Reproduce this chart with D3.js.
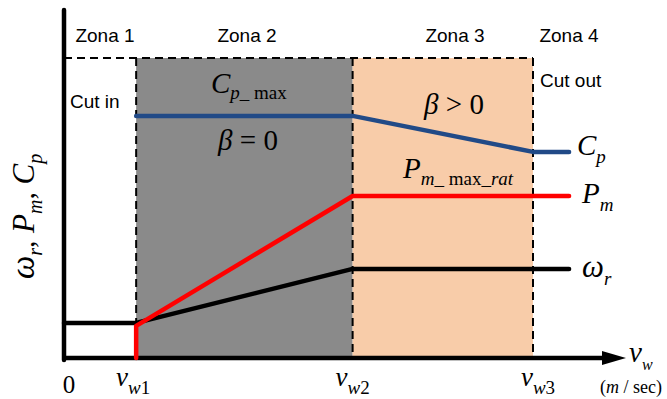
<!DOCTYPE html>
<html><head><meta charset="utf-8">
<script src="https://cdn.jsdelivr.net/npm/d3@7"></script>
<style>body{margin:0;background:#fff}svg{display:block}</style>
</head><body>
<svg id="c" width="667" height="399"></svg>
<script>
// ---- data ----
const zoneNames = ["Zona 1", "Zona 2", "Zona 3", "Zona 4"];
const windBreaks = [0, 1, 4, 6.5];           // 0, vw1, vw2, vw3
const windTickNames = ["0", "w1", "w2", "w3"];
const lineEnd = 7.0;
const omegaV = [0, 1, 4, lineEnd];
const omegaY = [0.117, 0.117, 0.297, 0.297];
const pmV = [1, 1, 4, lineEnd];
const pmY = [0, 0.107, 0.54, 0.54];
const cpV = [1, 4, 6.5, lineEnd];
const cpY = [0.807, 0.807, 0.687, 0.687];

const svg = d3.select("#c");
const x = d3.scaleLinear().domain([0, 6.5]).range([64, 533]);
const y = d3.scaleLinear().domain([0, 1]).range([358, 58]);

const serif = "'Liberation Serif','Times New Roman',serif";
const sans = "'Liberation Sans',Arial,sans-serif";

// zone rectangles
svg.append("rect").attr("x", x(windBreaks[1])).attr("y", y(1))
  .attr("width", x(windBreaks[2]) - x(windBreaks[1])).attr("height", y(0) - y(1))
  .attr("fill", "#8a8a8a");
svg.append("rect").attr("x", x(windBreaks[2])).attr("y", y(1))
  .attr("width", x(windBreaks[3]) - x(windBreaks[2])).attr("height", y(0) - y(1))
  .attr("fill", "#f8cca9");

// dashed borders
const dash = "8,5";
const dl = (x1, y1, x2, y2) => svg.append("line").attr("x1", x1).attr("y1", y1).attr("x2", x2).attr("y2", y2)
  .attr("stroke", "#000").attr("stroke-width", 2).attr("stroke-dasharray", dash);
dl(x(0), y(1), x(windBreaks[3]), y(1));
[1, 2, 3].forEach(i => dl(x(windBreaks[i]), y(1), x(windBreaks[i]), y(0)));
dl(x(windBreaks[1]), y(0) - 1, x(windBreaks[3]), y(0) - 1);

// curves
const line = d3.line().x(d => x(d[0])).y(d => y(d[1]));
function curve(vs, ys, color, w) {
  svg.append("path").datum(vs.map((v, i) => [v, ys[i]])).attr("d", line)
    .attr("fill", "none").attr("stroke", color).attr("stroke-width", w)
    .attr("stroke-linejoin", "round").attr("stroke-linecap", "round");
}

// axes
svg.append("line").attr("x1", x(0)).attr("y1", y(0) + 2).attr("x2", x(0)).attr("y2", y(1.16))
  .attr("stroke", "#000").attr("stroke-width", 4.5).attr("stroke-linecap", "round");
svg.append("line").attr("x1", x(0) - 2).attr("y1", y(0)).attr("x2", 606).attr("y2", y(0))
  .attr("stroke", "#000").attr("stroke-width", 4.5);
svg.append("path").attr("d", `M602,${y(0) - 7}L626,${y(0)}L602,${y(0) + 7}Z`).attr("fill", "#000");

curve(omegaV, omegaY, "#000", 4.5);
curve(cpV, cpY, "#214a87", 4.5);
curve(pmV, pmY, "#ff0000", 4.5);

// rich text helper
function rich(px, py, parts, anchor, rotate) {
  const t = svg.append("text").attr("x", px).attr("y", py).attr("text-anchor", anchor || "start")
    .attr("font-family", serif).attr("fill", "#000");
  if (rotate) t.attr("transform", `rotate(${rotate},${px},${py})`);
  let prev = 0;
  parts.forEach(p => {
    const sh = p.sub || 0;
    t.append("tspan").attr("dy", sh - prev).attr("font-size", p.s)
      .attr("font-style", p.i ? "italic" : "normal").text(p.t);
    prev = sh;
  });
  return t;
}

// zone labels
const zoneX = [105, 247, 455, 569];
zoneNames.forEach((z, i) => svg.append("text").attr("x", zoneX[i]).attr("y", 42)
  .attr("text-anchor", "middle").attr("font-family", sans).attr("font-size", 19).text(z));
svg.append("text").attr("x", 70).attr("y", 108).attr("font-family", sans).attr("font-size", 19).text("Cut in");
svg.append("text").attr("x", 540).attr("y", 87).attr("font-family", sans).attr("font-size", 19).text("Cut out");

// annotations
rich(211, y(cpY[0]) - 23, [{t: "C", i: 1, s: 29}, {t: "p", i: 1, s: 19, sub: 6}, {t: "_", i: 0, s: 19, sub: 6}, {t: " max", i: 0, s: 19, sub: 6}]);
rich(248, 150, [{t: "β", i: 1, s: 29}, {t: " = 0", s: 29}], "middle");
rich(454, 114, [{t: "β", i: 1, s: 29}, {t: " > 0", s: 29}], "middle");
rich(403, 178, [{t: "P", i: 1, s: 29}, {t: "m", i: 1, s: 19, sub: 7}, {t: "_", s: 19, sub: 7}, {t: " max", s: 19, sub: 7}, {t: "_", s: 19, sub: 7}, {t: "rat", i: 1, s: 19, sub: 7}]);

// series labels
rich(577, y(cpY[3]) + 3, [{t: "C", i: 1, s: 29}, {t: "p", i: 1, s: 19, sub: 8}]);
rich(582, y(pmY[3]) + 7, [{t: "P", i: 1, s: 29}, {t: "m", i: 1, s: 19, sub: 8}]);
rich(582, y(omegaY[3]) + 8, [{t: "ω", i: 1, s: 31}, {t: "r", i: 1, s: 19, sub: 8}]);

// y axis label
rich(34, 279, [{t: "ω", i: 1, s: 33}, {t: "r", i: 1, s: 20, sub: 8}, {t: ", ", s: 30, sub: 0}, {t: "P", i: 1, s: 31}, {t: "m", i: 1, s: 20, sub: 8}, {t: ", ", s: 30}, {t: "C", i: 1, s: 31}, {t: "p", i: 1, s: 20, sub: 8}], "start", -90);

// x tick labels
const tickOff = [5, -3, 0, 5];
windBreaks.forEach((v, i) => {
  if (i === 0) {
    rich(x(v) + tickOff[i], 393, [{t: "0", s: 25}], "middle");
  } else {
    rich(x(v) + tickOff[i], 386, [{t: "v", i: 1, s: 27}, {t: windTickNames[i].slice(0, 1), i: 1, s: 19, sub: 8}, {t: windTickNames[i].slice(1), s: 19, sub: 8}], "middle");
  }
});
rich(629, 362, [{t: "v", i: 1, s: 29}, {t: "w", i: 1, s: 16, sub: 8}]);
rich(631, 393, [{t: "(", s: 18}, {t: "m", i: 1, s: 18}, {t: " / sec)", s: 18}], "middle");
</script>
</body></html>
